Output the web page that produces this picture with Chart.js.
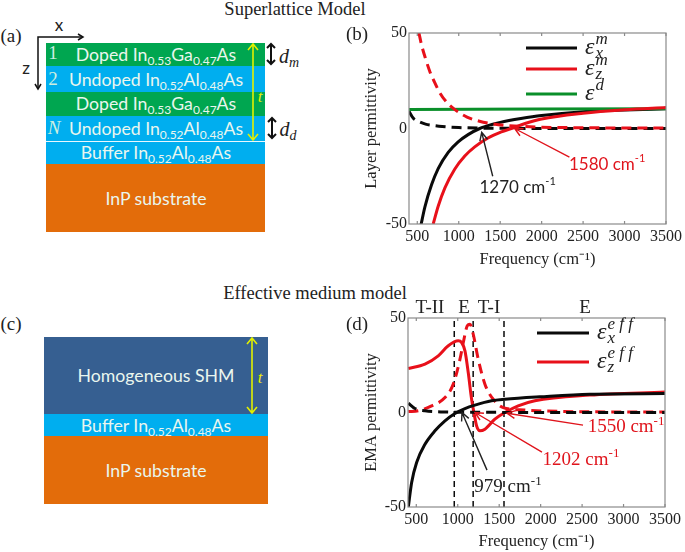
<!DOCTYPE html>
<html>
<head>
<meta charset="utf-8">
<script src="https://cdn.jsdelivr.net/npm/chart.js@4"></script>
<style>
  html, body { margin: 0; padding: 0; background: #fff; }
  #page { position: relative; width: 685px; height: 552px; overflow: hidden; }
  canvas { position: absolute; }
  .box, .t, svg { position: absolute; }
  .t { transform: translate(-50%, -50%); white-space: nowrap; line-height: 1; }
  .serif { font-family: "Liberation Serif", serif; color: #222; }
  .layer { font-family: Lato, sans-serif; color: #eaf6ee; font-size: 17.7px; }
  .layer sub { font-size: 12px; vertical-align: -4px; line-height: 0; }
  .num { font-family: "Liberation Serif", serif; color: #cdeee0; font-size: 19px; }
  .lab { font-family: Lato, sans-serif; color: #222; font-size: 17px; }
  .ital { font-family: "Liberation Serif", serif; font-style: italic; color: #222; font-size: 20px; }
  .ital sub { font-size: 14px; vertical-align: -4px; line-height: 0; }
</style>
</head>
<body>
<div id="page">
  <div class="t serif" style="left:295px;top:9px;font-size:18.5px">Superlattice Model</div>
  <div class="t serif" style="left:315px;top:293px;font-size:18.5px">Effective medium model</div>
  <div class="t serif" style="left:11px;top:35px;font-size:19px">(a)</div>
  <div class="t serif" style="left:11px;top:323px;font-size:19px">(c)</div>

  <div class="box" style="left:46px;top:43px;width:219px;height:23px;background:#00a650"></div>
  <div class="box" style="left:46px;top:66px;width:219px;height:26px;background:#00aeef"></div>
  <div class="box" style="left:46px;top:92px;width:219px;height:24px;background:#00a650"></div>
  <div class="box" style="left:46px;top:116px;width:219px;height:25px;background:#00aeef"></div>
  <div class="box" style="left:46px;top:142px;width:219px;height:22px;background:#00aeef"></div>
  <div class="box" style="left:46px;top:164px;width:219px;height:68px;background:#e36c0a"></div>
  <div class="t layer" style="left:156px;top:55px">Doped In<sub>0.53</sub>Ga<sub>0.47</sub>As</div>
  <div class="t layer" style="left:156px;top:80px">Undoped In<sub>0.52</sub>Al<sub>0.48</sub>As</div>
  <div class="t layer" style="left:156px;top:104px">Doped In<sub>0.53</sub>Ga<sub>0.47</sub>As</div>
  <div class="t layer" style="left:156px;top:129px">Undoped In<sub>0.52</sub>Al<sub>0.48</sub>As</div>
  <div class="t layer" style="left:156px;top:153px">Buffer In<sub>0.52</sub>Al<sub>0.48</sub>As</div>
  <div class="t layer" style="left:156px;top:199px">InP substrate</div>
  <div class="t num" style="left:53px;top:52px">1</div>
  <div class="t num" style="left:53px;top:78px">2</div>
  <div class="t num" style="left:54px;top:127px;font-style:italic">N</div>
  <div class="t lab" style="left:59px;top:24px">x</div>
  <div class="t lab" style="left:26px;top:67px">z</div>
  <div class="t ital" style="left:289px;top:56px">d<sub>m</sub></div>
  <div class="t ital" style="left:288px;top:129px">d<sub>d</sub></div>
  <div class="t ital" style="left:260px;top:96px;color:#e8f000;font-size:17px">t</div>

  <div class="box" style="left:44px;top:337px;width:224px;height:77px;background:#365f91"></div>
  <div class="box" style="left:44px;top:414px;width:224px;height:22px;background:#00aeef"></div>
  <div class="box" style="left:44px;top:436px;width:224px;height:68px;background:#e36c0a"></div>
  <div class="t layer" style="left:156px;top:376px">Homogeneous SHM</div>
  <div class="t layer" style="left:156px;top:426px">Buffer In<sub>0.52</sub>Al<sub>0.48</sub>As</div>
  <div class="t layer" style="left:156px;top:471px">InP substrate</div>
  <div class="t ital" style="left:260px;top:377px;color:#e8f000;font-size:17px">t</div>

  <svg width="300" height="552" style="left:0;top:0">
    <g fill="none" stroke="#111" stroke-width="1.5">
      <path d="M82 37H38V88"/><path d="M78 34l5 3l-5 3M35 84l3 5l3-5"/>
    </g>
    <g fill="none" stroke="#111" stroke-width="2">
      <path d="M271 44V64M267 48l4-4l4 4M267 60l4 4l4-4"/>
      <path d="M272 118V138M268 122l4-4l4 4M268 134l4 4l4-4"/>
    </g>
    <g fill="none" stroke="#e2f000" stroke-width="1.6">
      <path d="M253 44V140M248 50l5-6l5 6M248 134l5 6l5-6"/>
      <path d="M252 338V413M247 344l5-6l5 6M247 407l5 6l5-6"/>
    </g>
    <path d="M46 141.5H265" stroke="#e8f8ff" stroke-width="1"/>
  </svg>

  <canvas id="chartB" style="left:340px;top:0" width="345" height="270"></canvas>
  <canvas id="chartD" style="left:340px;top:280px" width="345" height="272"></canvas>
</div>

<script>
const xTicks = [500, 1000, 1500, 2000, 2500, 3000, 3500];
const yTicks = [-50, 0, 50];

// panel (b) values
const bBlackReX = [544, 592, 672, 752, 873, 993, 1113, 1253, 1400, 1500, 1750, 2000, 2500, 3000, 3500];
const bBlackReY = [-50.6, -41, -29.5, -21, -12.5, -7, -3.2, 0, 2.1, 3.2, 5.2, 6.8, 8.8, 9.7, 10.3];
const bBlackImX = [400, 450, 500, 600, 700, 800, 1000, 1270, 2000, 3500];
const bBlackImY = [9, 5.5, 4, 2.3, 1.6, 1.1, 0.5, 0.2, 0.05, 0];
const bRedReX = [692, 752, 833, 953, 1073, 1193, 1353, 1514, 1634, 1800, 2000, 2500, 3000, 3500];
const bRedReY = [-50, -40.7, -31.1, -21.2, -14.4, -9.6, -5, -1.8, 0, 2.6, 5, 8, 9.8, 11];
const bRedImX = [520, 550, 600, 650, 700, 772, 850, 950, 1100, 1250, 1400, 1574, 2000, 2500, 3500];
const bRedImY = [50, 44, 36.5, 30, 25, 18.7, 14, 10, 6, 3.8, 2.5, 1.6, 0.7, 0.4, 0.2];
const bGreenX = [400, 3500];
const bGreenY = [10, 10.3];

// panel (d) values
const dBlackReX = [404, 444, 504, 605, 725, 846, 966, 1087, 1207, 1408, 1569, 1990, 2593, 3500];
const dBlackReY = [-50, -37, -26.5, -16.8, -9.7, -4.4, -0.5, 2.1, 3.9, 6.2, 7, 8.3, 9.7, 10];
const dBlackImX = [404, 484, 605, 800, 1200, 3500];
const dBlackImY = [4.9, 2.1, 0.9, 0.3, 0.1, 0];
const dRedReX = [404, 605, 765, 886, 1006, 1047, 1087, 1127, 1167, 1195, 1227, 1268, 1328, 1448, 1569, 1729, 1930, 2593, 3500];
const dRedReY = [23.3, 25.6, 30, 35.3, 37.9, 37, 32.6, 21, 7, 0, -7, -9.7, -8.8, -3.5, 0, 3.5, 6.2, 9.2, 10.8];
const dRedImX = [404, 524, 685, 846, 946, 1027, 1067, 1115, 1147, 1187, 1247, 1328, 1428, 1549, 1800, 2200, 3500];
const dRedImY = [0.5, 0.9, 3.5, 7.9, 15, 28.2, 37, 45.9, 46.7, 41.4, 28.2, 15, 7, 2.6, 1.3, 0.6, 0.2];
const dBoundaries = [958, 1186, 1558];

const bNotes = [
  { text: '1270 cm', color: '#222', x: 1710, y: -31, fromX: 1410, fromY: -25, toX: 1277, toY: -2 },
  { text: '1580 cm', color: '#e0141c', x: 2790, y: -19, fromX: 2335, fromY: -15, toX: 1674, toY: 0 }
];
const dNotes = [
  { text: '1550 cm', color: '#e0141c', x: 3030, y: -7.8, fromX: 2511, fromY: -6.7, toX: 1594, toY: -0.4 },
  { text: '1202 cm', color: '#e0141c', x: 2487, y: -25, fromX: 2016, fromY: -21, toX: 1208, toY: 0 },
  { text: '979 cm', color: '#222', x: 1606, y: -39.5, fromX: 1353, fromY: -30.5, toX: 1051, toY: 0 }
];
const dRegions = [
  { text: 'T-II', x: 665 }, { text: 'E', x: 1075 }, { text: 'T-I', x: 1377 }, { text: 'E', x: 2535 }
];

const RED = '#e8101a', BLACK = '#0a0a0a', GREEN = '#0a8f2a';
const SERIF = '"Liberation Serif", serif';
const DASH = [10, 6];

function pts(xs, ys) { return xs.map((x, i) => ({ x: x, y: ys[i] })); }

function line(xs, ys, color, dashed, order) {
  return {
    data: pts(xs, ys), borderColor: color, borderWidth: 3, pointRadius: 0,
    borderDash: dashed ? DASH : [], cubicInterpolationMode: 'monotone', order: order
  };
}

function arrow(ctx, x1, y1, x2, y2, color) {
  const a = Math.atan2(y2 - y1, x2 - x1);
  ctx.strokeStyle = color;
  ctx.lineWidth = 1.4;
  ctx.beginPath();
  ctx.moveTo(x1, y1);
  ctx.lineTo(x2, y2);
  ctx.moveTo(x2 - 9 * Math.cos(a - 0.45), y2 - 9 * Math.sin(a - 0.45));
  ctx.lineTo(x2, y2);
  ctx.lineTo(x2 - 9 * Math.cos(a + 0.45), y2 - 9 * Math.sin(a + 0.45));
  ctx.stroke();
}

// the text "-1" is raised a little above the unit, as in the figure
function noteText(ctx, n, px, py, family, size) {
  ctx.font = size + 'px ' + family;
  const w = ctx.measureText(n.text).width;
  ctx.font = (size - 6) + 'px ' + family;
  const w2 = ctx.measureText('-1').width;
  const left = px - (w + w2) / 2;
  ctx.fillStyle = n.color;
  ctx.textAlign = 'left';
  ctx.textBaseline = 'middle';
  ctx.font = size + 'px ' + family;
  ctx.fillText(n.text, left, py);
  ctx.font = (size - 6) + 'px ' + family;
  ctx.fillText('-1', left + w, py - 6);
}

function epsLabel(ctx, x, y, sub, sup) {
  ctx.fillStyle = '#222';
  ctx.textAlign = 'left';
  ctx.textBaseline = 'middle';
  ctx.font = 'italic 24px ' + SERIF;
  ctx.fillText('ε', x, y);
  const w = ctx.measureText('ε').width;
  ctx.font = 'italic 17px ' + SERIF;
  if (sup) ctx.fillText(sup, x + w + 1, y - 8);
  if (sub) ctx.fillText(sub, x + w + 1, y + 6);
}

function framePlugin(notes, family, size, legend, extra) {
  return {
    id: 'frame',
    afterDraw(chart) {
      const { ctx, chartArea: a, scales: { x, y } } = chart;
      ctx.save();
      ctx.strokeStyle = '#8a8a8a';
      ctx.lineWidth = 1.2;
      ctx.strokeRect(a.left, a.top, a.right - a.left, a.bottom - a.top);
      xTicks.forEach(v => {
        const p = x.getPixelForValue(v);
        ctx.beginPath();
        ctx.moveTo(p, a.bottom); ctx.lineTo(p, a.bottom - 3);
        ctx.moveTo(p, a.top); ctx.lineTo(p, a.top + 3);
        ctx.stroke();
      });
      legend.forEach(l => {
        ctx.strokeStyle = l.color;
        ctx.lineWidth = 3;
        ctx.beginPath();
        ctx.moveTo(l.x1, l.y); ctx.lineTo(l.x2, l.y);
        ctx.stroke();
        epsLabel(ctx, l.x2 + 8, l.y, l.sub, l.sup);
      });
      notes.forEach(n => {
        arrow(ctx, x.getPixelForValue(n.fromX), y.getPixelForValue(n.fromY),
          x.getPixelForValue(n.toX), y.getPixelForValue(n.toY), n.color);
        noteText(ctx, n, x.getPixelForValue(n.x), y.getPixelForValue(n.y), family, size);
      });
      if (extra) extra(chart);
      ctx.restore();
    }
  };
}

function makeChart(id, datasets, yTitle, box, plugin) {
  return new Chart(document.getElementById(id), {
    type: 'line',
    data: { datasets: datasets },
    options: {
      responsive: false,
      animation: false,
      events: [],
      layout: { padding: { left: box.pad, top: box.top, right: box.right, bottom: 0 } },
      plugins: { legend: { display: false }, tooltip: { enabled: false } },
      scales: {
        x: {
          type: 'linear', min: 400, max: 3500,
          afterBuildTicks: s => { s.ticks = xTicks.map(v => ({ value: v })); },
          afterFit: s => { s.height = box.below; },
          grid: { display: false, drawTicks: false },
          border: { display: false },
          ticks: { color: '#222', font: { family: SERIF, size: 16 }, maxRotation: 0, autoSkip: false, padding: 3, callback: v => String(v) },
          title: { display: true, text: 'Frequency (cm⁻¹)', color: '#222', font: { family: SERIF, size: 16.5 }, padding: { top: 0, bottom: 0 } }
        },
        y: {
          min: -50, max: 50,
          afterBuildTicks: s => { s.ticks = yTicks.map(v => ({ value: v })); },
          afterFit: s => { s.width = box.left - box.pad; },
          grid: { display: false, drawTicks: false },
          border: { display: false },
          ticks: { color: '#222', font: { family: SERIF, size: 16 }, padding: 2, callback: v => String(v) },
          title: { display: true, text: yTitle, color: '#222', font: { family: SERIF, size: 16.5 }, padding: { top: 0, bottom: 2 } }
        }
      }
    },
    plugins: [plugin]
  });
}

const bLegend = [
  { color: BLACK, x1: 186, x2: 237, y: 48, sub: 'x', sup: 'm' },
  { color: RED, x1: 186, x2: 237, y: 69, sub: 'z', sup: 'm' },
  { color: GREEN, x1: 186, x2: 237, y: 94, sub: '', sup: 'd' }
];
const dLegend = [
  { color: BLACK, x1: 197, x2: 249, y: 53, sub: 'x', sup: 'e f f' },
  { color: RED, x1: 197, x2: 249, y: 82, sub: 'z', sup: 'e f f' }
];

makeChart('chartB', [
  line(bBlackReX, bBlackReY, BLACK, false, 3),
  line(bBlackImX, bBlackImY, BLACK, true, 3),
  line(bGreenX, bGreenY, GREEN, false, 2),
  line(bRedReX, bRedReY, RED, false, 1),
  line(bRedImX, bRedImY, RED, true, 1)
], 'Layer permittivity', { left: 69, pad: 22, top: 33, right: 18, below: 46 },
  framePlugin(bNotes, 'Lato, sans-serif', 17, bLegend, chart => {
    const ctx = chart.ctx;
    ctx.fillStyle = '#222';
    ctx.textAlign = 'center';
    ctx.textBaseline = 'middle';
    ctx.font = '19px ' + SERIF;
    ctx.fillText('(b)', 17, 35);
  }));

makeChart('chartD', [
  ...dBoundaries.map(b => ({
    data: pts([b, b], [yTicks[0], yTicks[2]]),
    borderColor: BLACK, borderWidth: 1.5, borderDash: [6, 4], pointRadius: 0, order: 4
  })),
  line(dBlackReX, dBlackReY, BLACK, false, 2),
  line(dRedReX, dRedReY, RED, false, 3),
  line(dRedImX, dRedImY, RED, true, 3),
  line(dBlackImX, dBlackImY, BLACK, true, 1)
], 'EMA permittivity', { left: 68, pad: 22, top: 38, right: 20, below: 45 },
  framePlugin(dNotes, SERIF, 19, dLegend, chart => {
    const { ctx, chartArea: a, scales: { x } } = chart;
    ctx.fillStyle = '#222';
    ctx.textAlign = 'center';
    ctx.textBaseline = 'middle';
    ctx.font = '19px ' + SERIF;
    dRegions.forEach(r => ctx.fillText(r.text, x.getPixelForValue(r.x), a.top - 10));
    ctx.fillText('(d)', 17, 45);
  }));
</script>
</body>
</html>
